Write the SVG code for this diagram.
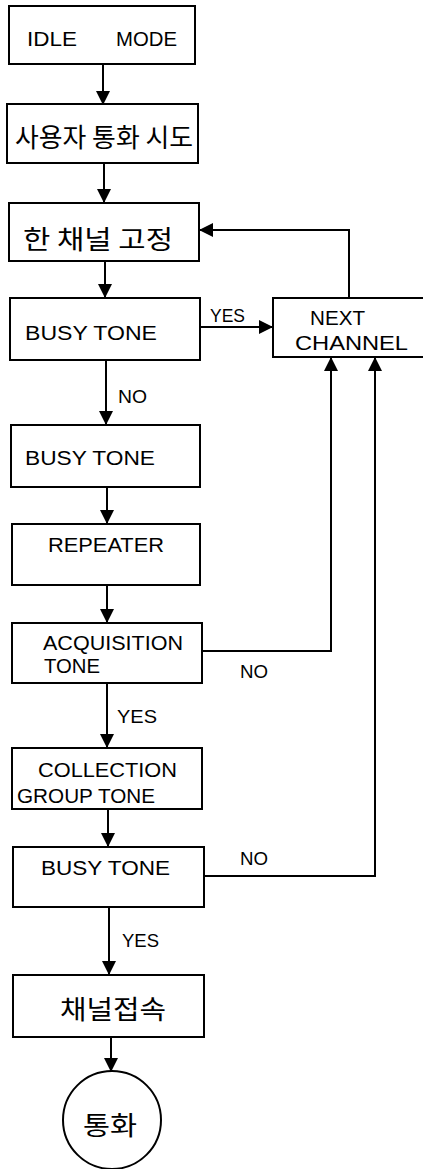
<svg xmlns="http://www.w3.org/2000/svg" width="423" height="1169" viewBox="0 0 423 1169">
<style>
.box{fill:#fff;stroke:#000;stroke-width:2}
.t{font-family:"Liberation Sans",Arial,sans-serif;font-size:20px;fill:#000}
.k{font-family:"Noto Sans CJK KR","Noto Sans",sans-serif;font-size:26px;fill:#000}
.lbl{font-family:"Liberation Sans",Arial,sans-serif;font-size:19px;fill:#000}
.c{fill:none;stroke:#000;stroke-width:2}
</style>
<defs>
<marker id="ah" viewBox="0 0 14 14" refX="14" refY="7" markerWidth="14" markerHeight="14" markerUnits="userSpaceOnUse" orient="auto">
<path d="M0,0 L14,7 L0,14 z" fill="#000"/>
</marker>
</defs>
<rect width="423" height="1169" fill="#fff"/>
<g id="connectors">
<path class="c" d="M103,64 V105" marker-end="url(#ah)"/>
<path class="c" d="M104,163 V203" marker-end="url(#ah)"/>
<path class="c" d="M105,261 V298" marker-end="url(#ah)"/>
<path class="c" d="M200,327 H273" marker-end="url(#ah)"/>
<path class="c" d="M349,298 V230 H199" marker-end="url(#ah)"/>
<path class="c" d="M106,360 V425" marker-end="url(#ah)"/>
<path class="c" d="M107,487 V524" marker-end="url(#ah)"/>
<path class="c" d="M107,585 V623" marker-end="url(#ah)"/>
<path class="c" d="M202,651 H331 V357" marker-end="url(#ah)"/>
<path class="c" d="M107,683 V748" marker-end="url(#ah)"/>
<path class="c" d="M108,809 V847" marker-end="url(#ah)"/>
<path class="c" d="M204,876 H375 V357" marker-end="url(#ah)"/>
<path class="c" d="M109,907 V975" marker-end="url(#ah)"/>
<path class="c" d="M111,1037 V1072" marker-end="url(#ah)"/>
<text class="lbl" x="210" y="322" textLength="35" lengthAdjust="spacingAndGlyphs">YES</text>
<text class="lbl" x="118" y="403" textLength="29" lengthAdjust="spacingAndGlyphs">NO</text>
<text class="lbl" x="240" y="678" textLength="28" lengthAdjust="spacingAndGlyphs">NO</text>
<text class="lbl" x="117" y="723" textLength="40" lengthAdjust="spacingAndGlyphs">YES</text>
<text class="lbl" x="240" y="865" textLength="28" lengthAdjust="spacingAndGlyphs">NO</text>
<text class="lbl" x="122" y="947" textLength="37" lengthAdjust="spacingAndGlyphs">YES</text>
</g>
<g id="idle">
<rect class="box" x="9" y="6" width="186" height="58"/>
<text class="t" y="46"><tspan x="27" textLength="50" lengthAdjust="spacingAndGlyphs">IDLE</tspan> <tspan x="116" textLength="61" lengthAdjust="spacingAndGlyphs">MODE</tspan></text>
</g>
<g id="user-call">
<rect class="box" x="7" y="104" width="191" height="59"/>
<text class="k" x="15" y="147" textLength="178" lengthAdjust="spacingAndGlyphs">사용자 통화 시도</text>
</g>
<g id="fix-channel">
<rect class="box" x="9" y="203" width="190" height="58"/>
<text class="k" x="23" y="249" textLength="150" lengthAdjust="spacingAndGlyphs">한 채널 고정</text>
</g>
<g id="busy1">
<rect class="box" x="10" y="298" width="190" height="62"/>
<text class="t" x="25" y="340" textLength="132" lengthAdjust="spacingAndGlyphs">BUSY  TONE</text>
</g>
<g id="next-channel">
<rect class="box" x="273" y="298" width="160" height="59"/>
<text class="t" x="310" y="325" textLength="55" lengthAdjust="spacingAndGlyphs">NEXT</text>
<text class="t" x="295" y="350" textLength="113" lengthAdjust="spacingAndGlyphs">CHANNEL</text>
</g>
<g id="busy2">
<rect class="box" x="11" y="425" width="189" height="62"/>
<text class="t" x="25" y="465" textLength="130" lengthAdjust="spacingAndGlyphs">BUSY  TONE</text>
</g>
<g id="repeater">
<rect class="box" x="12" y="524" width="188" height="61"/>
<text class="t" x="48" y="552" textLength="116" lengthAdjust="spacingAndGlyphs">REPEATER</text>
</g>
<g id="acquisition">
<rect class="box" x="12" y="623" width="190" height="60"/>
<text class="t" x="43" y="650" textLength="140" lengthAdjust="spacingAndGlyphs">ACQUISITION</text>
<text class="t" x="44" y="673" textLength="56" lengthAdjust="spacingAndGlyphs">TONE</text>
</g>
<g id="collection">
<rect class="box" x="12" y="748" width="190" height="61"/>
<text class="t" x="38" y="777" textLength="139" lengthAdjust="spacingAndGlyphs">COLLECTION</text>
<text class="t" x="17" y="803" textLength="138" lengthAdjust="spacingAndGlyphs">GROUP TONE</text>
</g>
<g id="busy3">
<rect class="box" x="13" y="847" width="191" height="60"/>
<text class="t" x="41" y="875" textLength="129" lengthAdjust="spacingAndGlyphs">BUSY  TONE</text>
</g>
<g id="connect">
<rect class="box" x="13" y="975" width="191" height="62"/>
<text class="k" x="60" y="1019" textLength="106" lengthAdjust="spacingAndGlyphs">채널접속</text>
</g>
<g id="call">
<circle class="box" cx="112" cy="1120" r="49"/>
<text class="k" x="83" y="1135" textLength="54" lengthAdjust="spacingAndGlyphs">통화</text>
</g>
</svg>
